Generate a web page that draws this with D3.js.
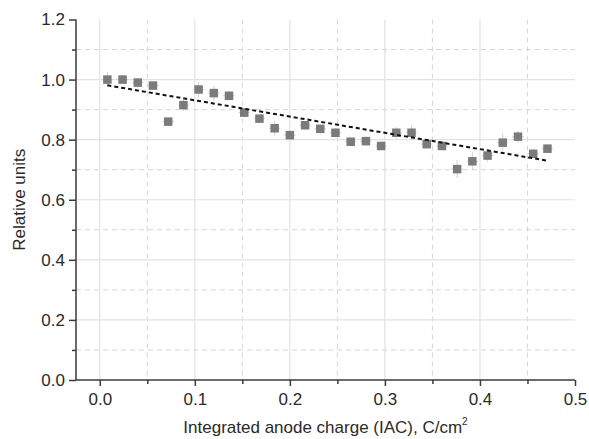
<!DOCTYPE html>
<html>
<head>
<meta charset="utf-8">
<script src="https://cdn.jsdelivr.net/npm/d3@7"></script>
<style>
  html, body { margin: 0; padding: 0; background: #fff; }
  svg { display: block; font-family: "Liberation Sans", Arial, Helvetica, sans-serif; }
</style>
</head>
<body>
<svg id="chart" width="589" height="439"></svg>
<script>
// Data
const iac = [0.008, 0.024, 0.040, 0.056, 0.072, 0.088, 0.104, 0.120, 0.136, 0.152,
             0.168, 0.184, 0.200, 0.216, 0.232, 0.248, 0.264, 0.280, 0.296, 0.312,
             0.328, 0.344, 0.360, 0.376, 0.392, 0.408, 0.424, 0.440, 0.456, 0.471];
const relUnits = [1.000, 1.000, 0.990, 0.980, 0.860, 0.915, 0.967, 0.955, 0.946, 0.890,
                  0.870, 0.838, 0.815, 0.848, 0.836, 0.823, 0.793, 0.795, 0.779, 0.823,
                  0.823, 0.785, 0.779, 0.702, 0.728, 0.747, 0.790, 0.810, 0.753, 0.770];
const xErr = [0.006, 0.006, 0.006, 0.006, 0.006, 0.006, 0.006, 0.006, 0.006, 0.006,
              0.006, 0.006, 0.006, 0.006, 0.006, 0.006, 0.006, 0.006, 0.006, 0.006,
              0.006, 0.006, 0.006, 0.006, 0.006, 0.006, 0.006, 0.006, 0.006, 0.006];
const yErr = [0.025, 0.015, 0.015, 0.015, 0.015, 0.020, 0.025, 0.025, 0.015, 0.015,
              0.015, 0.025, 0.015, 0.015, 0.015, 0.015, 0.015, 0.015, 0.015, 0.020,
              0.025, 0.015, 0.015, 0.030, 0.030, 0.020, 0.030, 0.020, 0.015, 0.015];
const trendX = [0.008, 0.471];
const trendY = [0.981, 0.730];
const xMajorTicks = [0.0, 0.1, 0.2, 0.3, 0.4, 0.5];
const xMinorTicks = [0.05, 0.15, 0.25, 0.35, 0.45];
const yMajorTicks = [0.0, 0.2, 0.4, 0.6, 0.8, 1.0, 1.2];
const yMinorTicks = [0.1, 0.3, 0.5, 0.7, 0.9, 1.1];
const xTitle = "Integrated anode charge (IAC), C/cm";
const yTitle = "Relative units";

const svg = d3.select("#chart");
const mLeft = 76, mRight = 575, mTop = 19.5, mBottom = 380;

const x = d3.scaleLinear().domain([-0.025, 0.5]).range([mLeft, mRight]);
const y = d3.scaleLinear().domain([0, 1.2]).range([mBottom, mTop]);

// Grid
const grid = svg.append("g");
grid.selectAll(".vmaj").data(xMajorTicks.filter(d => d < 0.5)).join("line")
  .attr("x1", d => x(d)).attr("x2", d => x(d)).attr("y1", mTop).attr("y2", mBottom)
  .attr("stroke", "#dfe3e3").attr("stroke-width", 1.2);
grid.selectAll(".vmin").data(xMinorTicks).join("line")
  .attr("x1", d => x(d)).attr("x2", d => x(d)).attr("y1", mTop).attr("y2", mBottom)
  .attr("stroke", "#d6d6d6").attr("stroke-width", 1).attr("stroke-dasharray", "5,4");
grid.selectAll(".hmaj").data(yMajorTicks.filter(d => d > 0 && d < 1.2)).join("line")
  .attr("x1", mLeft).attr("x2", mRight).attr("y1", d => y(d)).attr("y2", d => y(d))
  .attr("stroke", "#dfe3e3").attr("stroke-width", 1.2);
grid.selectAll(".hmin").data(yMinorTicks).join("line")
  .attr("x1", mLeft).attr("x2", mRight).attr("y1", d => y(d)).attr("y2", d => y(d))
  .attr("stroke", "#d6d6d6").attr("stroke-width", 1).attr("stroke-dasharray", "5,4");

// Axes
const axisColor = "#3a3a3a";
const xAxis = svg.append("g").attr("transform", `translate(0,${mBottom})`)
  .call(d3.axisBottom(x).tickValues(xMajorTicks).tickFormat(d3.format(".1f")).tickSize(6).tickPadding(7))
  .call(g => g.select(".domain").attr("d", `M${mLeft},0H${mRight}`));
xAxis.selectAll(".tick line").attr("stroke", axisColor).attr("stroke-width", 1.5);
xAxis.select(".domain").attr("stroke", axisColor).attr("stroke-width", 1.5);
xAxis.selectAll(".tick text").attr("font-size", 17).attr("fill", "#2a2a2a")
  .attr("font-family", "Liberation Sans, Arial, sans-serif");
svg.append("g").attr("transform", `translate(0,${mBottom})`)
  .call(d3.axisBottom(x).tickValues(xMinorTicks).tickFormat("").tickSize(4))
  .call(g => g.select(".domain").remove())
  .selectAll(".tick line").attr("stroke", axisColor).attr("stroke-width", 1.5);

const yAxis = svg.append("g").attr("transform", `translate(${mLeft},0)`)
  .call(d3.axisLeft(y).tickValues(yMajorTicks).tickFormat(d3.format(".1f")).tickSize(7).tickPadding(4))
  .call(g => g.select(".domain").attr("d", `M0,${mTop}V${mBottom}`));
yAxis.selectAll(".tick line").attr("stroke", axisColor).attr("stroke-width", 1.5);
yAxis.select(".domain").attr("stroke", axisColor).attr("stroke-width", 1.5);
yAxis.selectAll(".tick text").attr("font-size", 17).attr("fill", "#2a2a2a")
  .attr("font-family", "Liberation Sans, Arial, sans-serif");
svg.append("g").attr("transform", `translate(${mLeft},0)`)
  .call(d3.axisLeft(y).tickValues(yMinorTicks).tickFormat("").tickSize(4))
  .call(g => g.select(".domain").remove())
  .selectAll(".tick line").attr("stroke", axisColor).attr("stroke-width", 1.5);

// Error bars
const pts = iac.map((v, i) => ({x: v, y: relUnits[i], ex: xErr[i], ey: yErr[i]}));
const eb = svg.append("g").attr("stroke", "#d0d0d0").attr("stroke-width", 1);
eb.selectAll(".ev").data(pts).join("line")
  .attr("x1", d => x(d.x)).attr("x2", d => x(d.x))
  .attr("y1", d => y(d.y - d.ey)).attr("y2", d => y(d.y + d.ey));
eb.selectAll(".eh").data(pts).join("line")
  .attr("x1", d => x(d.x - d.ex)).attr("x2", d => x(d.x + d.ex))
  .attr("y1", d => y(d.y)).attr("y2", d => y(d.y));

// Points
const s = 8.5;
svg.append("g").selectAll("rect").data(pts).join("rect")
  .attr("x", d => x(d.x) - s / 2).attr("y", d => y(d.y) - s / 2)
  .attr("width", s).attr("height", s).attr("fill", "#7b7b7b");

// Trend line
svg.append("path")
  .datum(trendX.map((v, i) => [v, trendY[i]]))
  .attr("d", d3.line().x(d => x(d[0])).y(d => y(d[1])))
  .attr("fill", "none").attr("stroke", "#111").attr("stroke-width", 2)
  .attr("stroke-dasharray", "4,3");

// Titles
const xt = svg.append("text").attr("x", (mLeft + mRight) / 2).attr("y", 433)
  .attr("text-anchor", "middle").attr("font-size", 17).attr("fill", "#2a2a2a");
xt.append("tspan").text(xTitle);
xt.append("tspan").attr("font-size", 10).attr("dy", -8).text("2");

svg.append("text").attr("transform", `translate(25,${(mTop + mBottom) / 2}) rotate(-90)`)
  .attr("text-anchor", "middle").attr("font-size", 17).attr("fill", "#2a2a2a").text(yTitle);
</script>
</body>
</html>
